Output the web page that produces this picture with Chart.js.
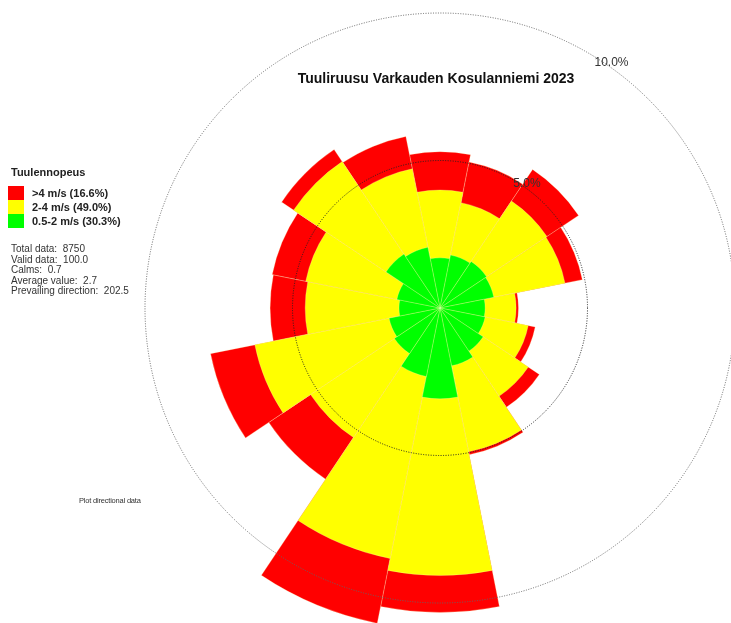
<!DOCTYPE html>
<html>
<head>
<meta charset="utf-8">
<title>Tuuliruusu Varkauden Kosulanniemi 2023</title>
<script src="https://cdn.jsdelivr.net/npm/chart.js@4.4.1/dist/chart.umd.min.js"></script>
<style>
    html, body {
        margin: 0;
        padding: 0;
        width: 731px;
        height: 623px;
        overflow: hidden;
        background: #fff;
    }
    body {
        position: relative;
        font-family: "Liberation Sans", Arial, sans-serif;
        color: #111;
    }
    #chart-box {
        position: absolute;
        left: 0;
        top: 0;
        width: 760px;
        height: 623px;
    }
    #title {
        position: absolute;
        left: 236px;
        top: 70px;
        width: 400px;
        text-align: center;
        font-size: 14px;
        font-weight: bold;
        line-height: 16px;
    }
    .legend-head {
        position: absolute;
        left: 11px;
        top: 165px;
        font-size: 11px;
        font-weight: bold;
        line-height: 14px;
        color: #222;
    }
    .swatch {
        position: absolute;
        left: 8px;
        width: 16px;
        height: 14px;
    }
    .legend-label {
        position: absolute;
        left: 32px;
        font-size: 11px;
        font-weight: bold;
        line-height: 14px;
        color: #222;
    }
    .stat {
        position: absolute;
        left: 11px;
        font-size: 10px;
        line-height: 10px;
        color: #333;
        white-space: pre;
    }
    #note {
        position: absolute;
        left: 79px;
        top: 496px;
        font-size: 7.5px;
        line-height: 9px;
        color: #333;
        letter-spacing: -0.2px;
    }
</style>
</head>
<body>
<div id="chart-box"><canvas id="rose"></canvas></div>
<div id="title">Tuuliruusu Varkauden Kosulanniemi 2023</div>
<div id="legend"></div>
<div id="note">Plot directional data</div>

<script>
// Directions (clockwise from north)
const directions = ['N', 'NNE', 'NE', 'ENE', 'E', 'ESE', 'SE', 'SSE',
                    'S', 'SSW', 'SW', 'WSW', 'W', 'WNW', 'NW', 'NNW'];

// Share of hours per direction and speed class (%)
const slowShare = [1.70, 1.83, 1.90, 1.86, 1.53, 1.56, 1.76, 2.00,
                   3.08, 2.37, 1.86, 1.76, 1.39, 1.49, 2.20, 2.10];   // 0.5-2 m/s
const midShare  = [2.30, 1.81, 2.46, 2.46, 1.05, 1.49, 1.84, 2.97,
                   5.99, 6.29, 3.42, 4.64, 3.18, 3.15, 3.77, 2.71];   // 2-4 m/s
const fastShare = [1.30, 1.41, 1.29, 0.60, 0.08, 0.24, 0.45, 0.10,
                   1.25, 2.24, 1.70, 1.53, 1.19, 1.16, 0.49, 1.12];   // >4 m/s

// Ring values and their labels
const ringTicks = [5, 10];
const ringLabels = ['5.0%', '10.0%'];

// Legend and summary texts
const classNames = ['>4 m/s (16.6%)', '2-4 m/s (49.0%)', '0.5-2 m/s (30.3%)'];
const classColors = ['#ff0000', '#ffff00', '#00ff00'];
const statLines = ['Total data:  8750', 'Valid data:  100.0', 'Calms:  0.7',
                   'Average value:  2.7', 'Prevailing direction:  202.5'];

// Build the HTML legend on the left
function buildLegend() {
    const legend = document.getElementById('legend');
    let html = '<div class="legend-head">Tuulennopeus</div>';
    classNames.forEach((name, i) => {
        const top = 186 + i * 14;
        html += `<div class="swatch" style="top:${top}px;background:${classColors[i]}"></div>`;
        html += `<div class="legend-label" style="top:${top}px">${name}</div>`;
    });
    statLines.forEach((line, i) => {
        html += `<div class="stat" style="top:${244 + i * 10.5}px">${line}</div>`;
    });
    legend.innerHTML = html;
}

// Stack the classes: each ring is drawn from the centre to its cumulative value
const midTop = slowShare.map((v, i) => v + midShare[i]);
const fastTop = midTop.map((v, i) => v + fastShare[i]);

// Ring labels drawn at an angle, just outside each circle
const ringLabelPlugin = {
    id: 'ringLabels',
    afterDraw(chart) {
        const scale = chart.scales.r;
        const ctx = chart.ctx;
        const angle = 35 * Math.PI / 180;
        ctx.save();
        ctx.font = '12px "Liberation Sans", Arial, sans-serif';
        ctx.fillStyle = '#333';
        ctx.textAlign = 'center';
        ctx.textBaseline = 'middle';
        ringTicks.forEach((value, i) => {
            const r = scale.getDistanceFromCenterForValue(value) + 4;
            const x = scale.xCenter + r * Math.sin(angle);
            const y = scale.yCenter - r * Math.cos(angle);
            ctx.fillText(ringLabels[i], x, y);
        });
        ctx.restore();
    }
};

const separator = 'rgba(250, 250, 190, 0.55)';

function init() {
    buildLegend();

    const ctx = document.getElementById('rose').getContext('2d');
    new Chart(ctx, {
        type: 'polarArea',
        data: {
            labels: directions,
            datasets: [
                {
                    label: classNames[2],
                    data: slowShare,
                    backgroundColor: classColors[2],
                    borderColor: separator,
                    borderWidth: 0.5,
                    clip: false
                },
                {
                    label: classNames[1],
                    data: midTop,
                    backgroundColor: classColors[1],
                    borderColor: separator,
                    borderWidth: 0.5,
                    clip: false
                },
                {
                    label: classNames[0],
                    data: fastTop,
                    backgroundColor: classColors[0],
                    borderColor: separator,
                    borderWidth: 0.5,
                    clip: false
                }
            ]
        },
        options: {
            responsive: true,
            maintainAspectRatio: false,
            animation: false,
            layout: {
                padding: { left: 145, right: 25, top: 13, bottom: 20 }
            },
            plugins: {
                legend: { display: false },
                tooltip: { enabled: false }
            },
            scales: {
                r: {
                    min: 0,
                    max: 10,
                    startAngle: -11.25,
                    ticks: { display: false, stepSize: 5 },
                    angleLines: { display: false },
                    pointLabels: { display: false },
                    grid: {
                        z: 1,
                        circular: true,
                        lineWidth: 1,
                        color: (c) => c.tick && c.tick.value === 5 ? '#222' : '#666'
                    },
                    border: { dash: [1, 1.5] }
                }
            }
        },
        plugins: [ringLabelPlugin]
    });
}

document.addEventListener('DOMContentLoaded', init);
</script>
</body>
</html>
